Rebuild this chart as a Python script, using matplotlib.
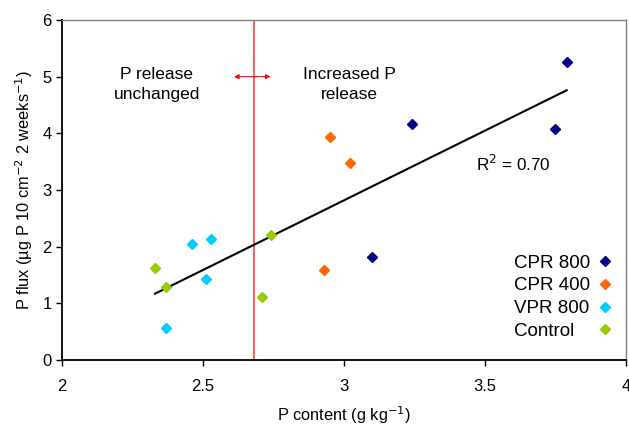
import numpy as np
import matplotlib.pyplot as plt

plt.rcParams['font.family'] = ['Liberation Sans', 'DejaVu Sans']

# P content (g/kg) and P flux per treatment
cpr800_x = [3.79, 3.75, 3.24, 3.10]
cpr800_y = [5.26, 4.08, 4.16, 1.82]
cpr400_x = [2.95, 3.02, 2.93]
cpr400_y = [3.94, 3.48, 1.58]
vpr800_x = [2.46, 2.53, 2.51, 2.37]
vpr800_y = [2.04, 2.13, 1.43, 0.56]
control_x = [2.33, 2.37, 2.74, 2.71]
control_y = [1.62, 1.29, 2.21, 1.12]

# linear trend over all samples
trend_x = [2.33, 3.79]
trend_y = [1.17, 4.76]
r2 = 0.70

threshold = 2.68

fig = plt.figure(figsize=(6.29, 4.26), dpi=100)
ax = fig.add_axes([0.0986, 0.155, 0.8964, 0.798])

series = [
    (cpr800_x, cpr800_y, '#000080', 'CPR 800'),
    (cpr400_x, cpr400_y, '#FF6600', 'CPR 400'),
    (vpr800_x, vpr800_y, '#00CCFF', 'VPR 800'),
    (control_x, control_y, '#99CC00', 'Control'),
]
for xs, ys, c, lab in series:
    ax.plot(xs, ys, 'D', color=c, ms=5.6, mec=c, label=lab, zorder=3)

ax.plot(trend_x, trend_y, color='black', lw=1.5, zorder=2)
ax.axvline(threshold, color='#FF4040', lw=1.2, zorder=1)
ax.annotate('', xy=(2.61, 5.0), xytext=(2.74, 5.0),
            arrowprops=dict(arrowstyle='<|-|>', color='red', lw=0.8,
                            mutation_scale=7, shrinkA=0, shrinkB=0))

ax.text(2.336, 4.86, 'P release\nunchanged', ha='center', va='center',
        fontsize=12.5, linespacing=1.45)
ax.text(3.02, 4.86, 'Increased P\nrelease', ha='center', va='center',
        fontsize=12.5, linespacing=1.45)
ax.text(3.6, 3.46, 'R$^2$ = %.2f' % r2, ha='center', va='center', fontsize=12.3)

ax.set_xlim(2, 4)
ax.set_ylim(0, 6)
ax.set_xticks([2, 2.5, 3, 3.5, 4])
ax.set_xticklabels(['2', '2.5', '3', '3.5', '4'])
ax.set_yticks(range(7))
ax.tick_params(labelsize=12, direction='out', length=4, width=1)
ax.tick_params(axis='x', pad=10)
for s in ['top', 'right']:
    ax.spines[s].set_color('#808080')
    ax.spines[s].set_linewidth(1)
for s in ['left', 'bottom']:
    ax.spines[s].set_linewidth(1.3)

ax.set_xlabel('P content (g kg$^{-1}$)', fontsize=11.8, labelpad=7)
ax.set_ylabel('P flux (µg P 10 cm$^{-2}$ 2 weeks$^{-1}$)', fontsize=11.8, labelpad=5)

leg = ax.legend(loc='upper right', bbox_to_anchor=(0.993, 0.332), frameon=False,
                markerfirst=False, fontsize=13.5, handletextpad=0.3,
                labelspacing=0.3, handlelength=1.0, borderaxespad=0)

# left-align the labels while keeping the markers in one column
fig.canvas.draw()
rend = fig.canvas.get_renderer()
rows = leg._legend_handle_box.get_children()[0].get_children()
widths = [t.get_window_extent(rend).width for t in leg.get_texts()]
wmax = max(widths)
for row, w in zip(rows, widths):
    row.sep += (wmax - w) * 72.0 / fig.dpi

fig.savefig('out.png')
